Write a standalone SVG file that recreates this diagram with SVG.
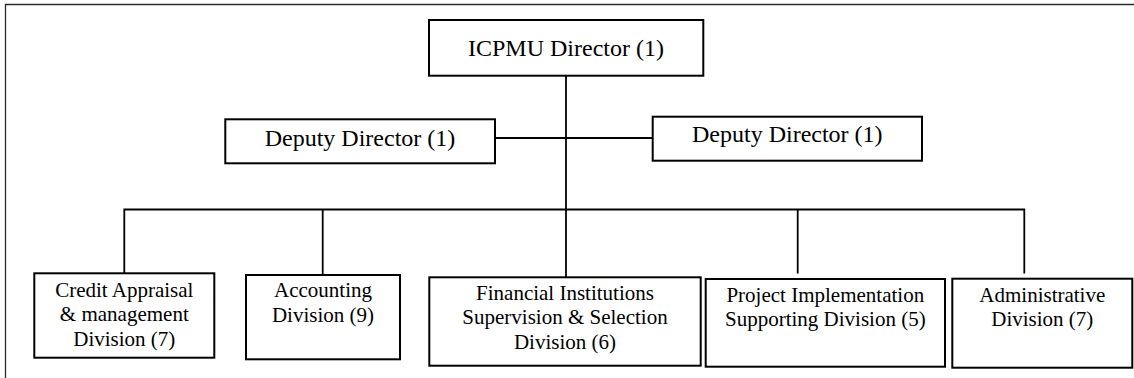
<svg xmlns="http://www.w3.org/2000/svg" width="1134" height="378" viewBox="0 0 1134 378">
  <style>
    .frame { fill: none; stroke: #2a2a2a; stroke-width: 1.3; }
    .box { fill: #ffffff; stroke: #000000; stroke-width: 2; }
    .link { fill: none; stroke: #000000; stroke-width: 1.8; }
    .lg { font-family: "Liberation Serif", "Times New Roman", serif; font-size: 24px; fill: #000000; text-anchor: middle; }
    .sm { font-family: "Liberation Serif", "Times New Roman", serif; font-size: 21px; fill: #000000; text-anchor: middle; }
  </style>
  <rect width="1134" height="378" fill="#ffffff"/>

  <!-- outer frame (top and left edges) -->
  <path class="frame" d="M5.5,378 V4.5 H1134"/>

  <!-- connectors -->
  <g id="connectors">
    <path class="link" d="M566,76 V277"/>
    <path class="link" d="M495,138 H653"/>
    <path class="link" d="M124.3,273.5 V209.5 H1024.3 V273.5"/>
    <path class="link" d="M322.7,209.5 V275"/>
    <path class="link" d="M797.7,209.5 V273.5"/>
  </g>

  <g id="director">
    <rect class="box" x="429" y="20" width="274.3" height="55.7"/>
    <text class="lg" x="566" y="56">ICPMU Director (1)</text>
  </g>

  <g id="deputy-left">
    <rect class="box" x="225.3" y="119.3" width="269.7" height="44"/>
    <text class="lg" x="360" y="146">Deputy Director (1)</text>
  </g>

  <g id="deputy-right">
    <rect class="box" x="652.7" y="116.7" width="269.3" height="44"/>
    <text class="lg" x="787.3" y="142">Deputy Director (1)</text>
  </g>

  <g id="credit">
    <rect class="box" x="34.3" y="273.3" width="180" height="84.4"/>
    <text class="sm" x="124.3" y="296.7">Credit Appraisal</text>
    <text class="sm" x="124.3" y="321.4">&amp; management</text>
    <text class="sm" x="124.3" y="346.1">Division (7)</text>
  </g>

  <g id="accounting">
    <rect class="box" x="246" y="275" width="154" height="84.3"/>
    <text class="sm" x="323" y="297">Accounting</text>
    <text class="sm" x="323" y="321.5">Division (9)</text>
  </g>

  <g id="financial">
    <rect class="box" x="429.3" y="277.3" width="271.4" height="88.4"/>
    <text class="sm" x="565" y="299.5">Financial Institutions</text>
    <text class="sm" x="565" y="324.3">Supervision &amp; Selection</text>
    <text class="sm" x="565" y="349.1">Division (6)</text>
  </g>

  <g id="project">
    <rect class="box" x="705.7" y="279" width="239.3" height="87.7"/>
    <text class="sm" x="825.3" y="301.7">Project Implementation</text>
    <text class="sm" x="825.3" y="326">Supporting Division (5)</text>
  </g>

  <g id="administrative">
    <rect class="box" x="952.3" y="278.7" width="180" height="89"/>
    <text class="sm" x="1042.3" y="301.7">Administrative</text>
    <text class="sm" x="1042.3" y="325.5">Division (7)</text>
  </g>
</svg>
